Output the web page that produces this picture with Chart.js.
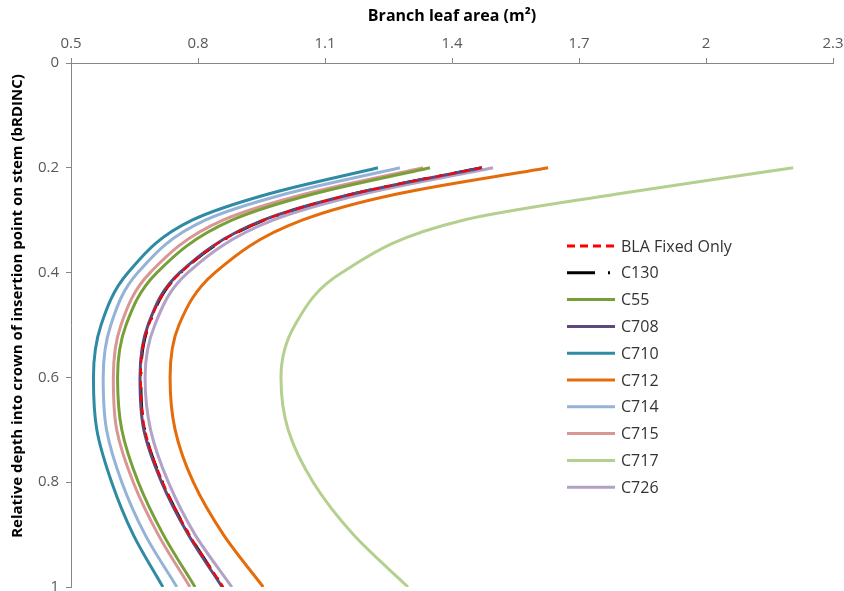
<!DOCTYPE html>
<html>
<head>
<meta charset="utf-8">
<script src="https://cdn.jsdelivr.net/npm/chart.js@4.4.1/dist/chart.umd.min.js"></script>
<style>
  html, body { margin: 0; padding: 0; background: #fff; }
  #chart { display: block; }
</style>
</head>
<body>
<canvas id="chart" width="844" height="591"></canvas>
<script>
// relative depth into crown (bRDINC) at which branch leaf area is sampled
const depth = [0.2, 0.25, 0.3, 0.4, 0.5, 0.6, 0.7, 0.8, 0.9, 1.0];

// branch leaf area (m2) per clone, one value per depth
const blaFixedOnly = [1.470, 1.166, 0.956, 0.760, 0.684, 0.665, 0.675, 0.717, 0.780, 0.860];
const c130 = [1.470, 1.166, 0.956, 0.759, 0.684, 0.665, 0.674, 0.716, 0.779, 0.859];
const c55  = [1.348, 1.072, 0.880, 0.703, 0.630, 0.610, 0.620, 0.659, 0.718, 0.793];
const c708 = [1.471, 1.165, 0.954, 0.757, 0.682, 0.663, 0.672, 0.714, 0.777, 0.857];
const c710 = [1.225, 0.966, 0.786, 0.635, 0.571, 0.553, 0.561, 0.596, 0.647, 0.717];
const c712 = [1.627, 1.270, 1.046, 0.840, 0.755, 0.734, 0.746, 0.789, 0.860, 0.954];
const c714 = [1.277, 1.006, 0.817, 0.658, 0.594, 0.576, 0.584, 0.620, 0.675, 0.750];
const c715 = [1.332, 1.053, 0.859, 0.687, 0.618, 0.600, 0.608, 0.647, 0.706, 0.781];
const c717 = [2.206, 1.790, 1.426, 1.140, 1.029, 0.996, 1.013, 1.072, 1.167, 1.296];
const c726 = [1.497, 1.190, 0.977, 0.776, 0.698, 0.675, 0.688, 0.730, 0.793, 0.880];

const seriesNames = ['BLA Fixed Only', 'C130', 'C55', 'C708', 'C710', 'C712', 'C714', 'C715', 'C717', 'C726'];
const seriesValues = [blaFixedOnly, c130, c55, c708, c710, c712, c714, c715, c717, c726];

// axis ticks
const xTickValues = [0.5, 0.8, 1.1, 1.4, 1.7, 2, 2.3];
const yTickValues = [0, 0.2, 0.4, 0.6, 0.8, 1];

const lineColors = ['#ff0000', '#000000', '#77a03a', '#5f497a', '#2f8aa3', '#e46c0a',
                    '#95b3d7', '#d99694', '#b5d08e', '#b3a2c7'];
const lineDashes = [[8, 5], [28, 13, 2, 13], [], [], [], [], [], [], [], []];

const FONT = '"Open Sans", Lato, sans-serif';
const AXIS_GREY = '#868686';
const TEXT_GREY = '#595959';

const datasets = seriesNames.map((name, i) => ({
  label: name,
  data: depth.map((d, k) => ({ x: seriesValues[i][k], y: d })),
  borderColor: lineColors[i],
  backgroundColor: lineColors[i],
  borderDash: lineDashes[i],
  borderWidth: i === 0 ? 2 : 3,
  cubicInterpolationMode: 'monotone',
  pointRadius: 0,
  // keep the black C130 line beneath the clone curves
  order: i === 1 ? 1 : 0
}));

// legend drawn inside the plot, right of the curves
const insideLegend = {
  id: 'insideLegend',
  afterDraw(chart) {
    const ctx = chart.ctx;
    ctx.save();
    ctx.font = '16px ' + FONT;
    ctx.textBaseline = 'middle';
    chart.data.datasets.forEach((ds, i) => {
      const y = 246 + i * 26.8;
      ctx.beginPath();
      ctx.setLineDash(ds.borderDash);
      ctx.lineWidth = 3;
      ctx.strokeStyle = ds.borderColor;
      ctx.moveTo(567, y);
      ctx.lineTo(615, y);
      ctx.stroke();
      ctx.fillStyle = '#333333';
      ctx.fillText(ds.label, 621, y + 1);
    });
    ctx.restore();
  }
};

// rotated title of the depth axis
const depthTitle = {
  id: 'depthTitle',
  afterDraw(chart) {
    const ctx = chart.ctx;
    ctx.save();
    ctx.translate(18, 306);
    ctx.rotate(-Math.PI / 2);
    ctx.font = 'bold 15px ' + FONT;
    ctx.fillStyle = '#000000';
    ctx.textAlign = 'center';
    ctx.textBaseline = 'middle';
    ctx.fillText('Relative depth into crown of insertion point on stem (bRDINC)', 0, 0);
    ctx.restore();
  }
};

const fmt = v => String(Math.round(v * 10) / 10);

new Chart(document.getElementById('chart'), {
  type: 'line',
  data: { datasets },
  options: {
    indexAxis: 'y',
    responsive: false,
    animation: false,
    layout: { padding: { left: 0, top: 0, right: 11, bottom: 4 } },
    plugins: {
      legend: { display: false },
      tooltip: { enabled: false }
    },
    scales: {
      x: {
        type: 'linear',
        position: 'top',
        min: 0.5,
        max: 2.3,
        afterBuildTicks: axis => { axis.ticks = xTickValues.map(v => ({ value: v })); },
        afterFit: axis => { axis.height = 63; axis.paddingLeft = 0; axis.paddingRight = 0; },
        grid: { drawOnChartArea: false, tickLength: 5, color: AXIS_GREY },
        border: { color: AXIS_GREY, width: 1 },
        ticks: { color: TEXT_GREY, font: { family: FONT, size: 15 }, padding: 5, maxRotation: 0, callback: fmt },
        title: {
          display: true,
          text: 'Branch leaf area (m\u00b2)',
          color: '#000000',
          font: { family: FONT, size: 16, weight: 'bold' },
          padding: { top: 7, bottom: 0 }
        }
      },
      y: {
        type: 'linear',
        position: 'left',
        reverse: true,
        min: 0,
        max: 1,
        afterBuildTicks: axis => { axis.ticks = yTickValues.map(v => ({ value: v })); },
        afterFit: axis => { axis.width = 71; axis.paddingTop = 0; axis.paddingBottom = 0; },
        grid: { drawOnChartArea: false, tickLength: 5, color: AXIS_GREY },
        border: { color: AXIS_GREY, width: 1 },
        ticks: { color: TEXT_GREY, font: { family: FONT, size: 15 }, padding: 7, callback: fmt }
      }
    }
  },
  plugins: [insideLegend, depthTitle]
});
</script>
</body>
</html>
